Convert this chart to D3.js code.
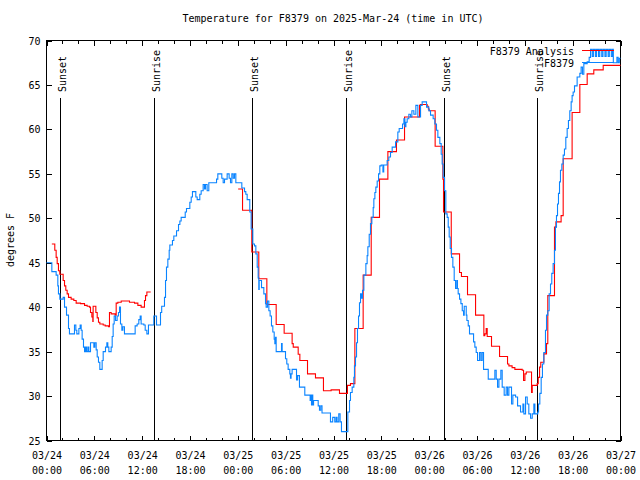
<!DOCTYPE html>
<html><head><meta charset="utf-8">
<script src="https://cdn.jsdelivr.net/npm/d3@7"></script>
<style>
body{margin:0;background:#fff}
svg{display:block}
text{font-family:"DejaVu Sans Mono",monospace;font-size:10px;fill:#000}
</style>
</head><body><svg id="c" width="640" height="480"></svg>
<script>
const chartTitle = "Temperature for F8379 on 2025-Mar-24 (time in UTC)";
const yAxisLabel = "degrees F";
const seriesNames = ["F8379 Analysis", "F8379"];
const seriesColors = ["#ff0000", "#0a84ff"];
const startUTC = Date.UTC(2025, 2, 24);
const spanHours = 72;
const yTicks = [25, 30, 35, 40, 45, 50, 55, 60, 65, 70];
const sunHours = [1.67, 13.46, 25.75, 37.54, 49.84, 61.5];
const sunLabels = ["Sunset", "Sunrise", "Sunset", "Sunrise", "Sunset", "Sunrise"];

// observations: [hours since 03/24 00:00 UTC, degrees F]
const obsSeries = [[0,45.0],[0.67,44.0],[1.21,43.6],[1.42,42.4],[1.5,41.5],[1.67,40.9],[2.09,41.1],[2.26,40.0],[2.51,39.1],[2.76,37.6],[2.88,37.0],[3.51,38.0],[3.68,37.4],[3.8,37.0],[4.06,37.6],[4.22,38.0],[4.35,37.4],[4.47,36.4],[4.64,35.5],[4.77,35.0],[4.89,35.5],[5.02,35.0],[5.19,35.5],[5.31,35.0],[5.52,36.0],[5.94,35.5],[6.06,36.0],[6.23,35.2],[6.36,34.4],[6.52,33.8],[6.69,33.0],[6.98,34.0],[7.11,35.0],[7.4,35.5],[7.57,36.0],[7.69,35.5],[7.82,35.0],[8.11,35.5],[8.24,36.7],[8.36,38.1],[8.49,39.0],[8.66,38.5],[8.86,39.0],[9.03,39.4],[9.16,40.0],[9.28,38.1],[9.45,37.4],[9.58,37.8],[9.78,37.0],[11.12,37.9],[11.37,38.1],[11.58,38.6],[11.75,39.0],[11.87,38.1],[12.21,38.0],[12.38,37.4],[12.59,37.0],[12.79,38.0],[13.46,39.0],[13.8,38.0],[14.3,39.4],[14.45,40.1],[14.8,41.1],[14.93,43.0],[15.05,44.5],[15.22,45.4],[15.39,46.4],[15.47,47.0],[15.8,47.5],[15.97,48.0],[16.31,48.6],[16.56,49.3],[16.73,49.7],[16.89,50.1],[17.4,50.7],[17.56,51.1],[17.98,51.8],[18.15,52.4],[18.31,53.0],[18.73,52.4],[18.9,52.1],[19.23,52.7],[19.4,53.1],[19.65,53.8],[19.82,53.3],[19.95,53.8],[20.15,53.1],[20.36,54.0],[21.33,54.4],[21.49,55.0],[21.99,54.5],[22.16,54.0],[22.33,54.4],[22.66,55.0],[22.91,54.5],[23.08,54.0],[23.25,55.0],[23.42,54.5],[23.58,55.0],[23.75,54.0],[24.5,53.4],[24.84,53.0],[25.0,52.7],[25.17,52.1],[25.5,50.7],[25.67,48.8],[25.88,47.1],[26.09,46.9],[26.26,46.0],[26.43,44.5],[26.55,43.3],[26.63,42.0],[26.68,43.0],[26.97,42.2],[27.26,41.5],[27.47,40.4],[27.55,40.0],[27.72,40.7],[27.89,39.6],[28.05,39.0],[28.22,37.9],[28.39,37.2],[28.56,36.4],[28.64,35.9],[28.72,36.6],[28.81,35.0],[29.48,35.9],[29.56,35.0],[29.98,34.2],[30.14,33.6],[30.31,33.0],[30.52,32.5],[30.6,32.0],[30.68,32.5],[30.81,33.0],[31.36,31.8],[31.5,32.3],[31.73,31.0],[32.4,30.1],[33.07,29.5],[33.15,30.1],[33.24,29.0],[33.32,30.1],[33.4,29.0],[33.5,29.5],[34.08,28.9],[34.24,28.4],[34.4,28.9],[34.56,28.1],[35.62,27.1],[35.9,27.6],[36.16,27.1],[36.33,27.6],[36.45,27.1],[36.66,28.0],[36.83,27.1],[37.0,26.0],[37.8,28.2],[38.01,29.5],[38.13,30.4],[38.34,31.0],[38.55,32.1],[38.63,33.4],[38.76,34.4],[38.89,36.0],[39.01,37.6],[39.14,39.0],[39.26,40.5],[39.39,41.5],[39.5,41.0],[39.64,41.9],[39.81,43.6],[40.06,44.9],[40.22,45.8],[40.31,46.8],[40.48,48.2],[40.64,49.4],[40.81,50.1],[40.98,51.2],[41.06,52.2],[41.19,52.9],[41.31,53.5],[41.48,54.2],[41.65,55.0],[41.81,55.9],[41.98,56.0],[42.2,55.2],[42.3,56.0],[42.73,56.5],[42.94,56.9],[43.15,57.4],[43.36,58.0],[43.78,58.6],[44.07,59.7],[44.24,60.1],[44.66,60.6],[44.83,61.2],[44.95,60.3],[45.08,60.8],[45.24,61.2],[45.45,61.7],[45.66,61.4],[45.83,62.1],[46.08,61.7],[46.33,62.7],[46.58,61.4],[46.92,62.7],[47.12,63.1],[47.55,63.1],[47.67,62.5],[47.96,62.1],[48.17,61.6],[48.5,61.2],[48.71,60.6],[48.92,59.9],[49.09,59.1],[49.34,58.4],[49.51,57.2],[49.63,56.1],[49.76,54.6],[49.93,53.1],[50.09,50.5],[50.26,50.1],[50.39,49.0],[50.51,47.9],[50.64,46.6],[50.8,45.6],[50.97,44.5],[51.14,43.0],[51.31,42.1],[51.47,43.0],[51.55,42.1],[51.64,41.5],[51.81,40.9],[51.98,40.4],[52.15,39.6],[52.31,39.1],[52.4,40.1],[52.65,39.1],[52.73,38.5],[52.9,37.9],[53.06,37.0],[53.57,36.1],[53.73,35.5],[53.9,34.9],[54.07,34.0],[54.32,34.9],[54.49,34.0],[54.65,34.9],[54.82,33.0],[55.41,31.9],[56.24,32.9],[56.41,31.9],[56.58,31.0],[56.75,31.9],[56.99,32.9],[57.16,31.0],[57.41,30.1],[57.66,31.0],[57.83,30.1],[58.0,31.0],[58.33,29.1],[58.5,30.1],[58.84,29.9],[59.09,28.9],[59.46,28.2],[59.76,29.1],[59.88,28.0],[60.09,29.9],[60.3,29.1],[60.5,28.0],[60.72,27.5],[60.93,28.0],[61.13,29.1],[61.26,28.0],[61.63,28.2],[61.72,29.1],[61.88,30.3],[62.05,32.1],[62.21,33.6],[62.38,34.9],[62.59,37.4],[62.72,39.1],[62.88,39.6],[63.05,41.5],[63.22,42.6],[63.38,43.8],[63.55,44.9],[63.72,46.4],[63.84,49.0],[63.97,50.3],[64.1,51.6],[64.22,52.8],[64.35,54.1],[64.47,55.4],[64.64,56.1],[64.81,57.1],[64.97,57.8],[65.14,59.1],[65.31,60.1],[65.47,61.0],[65.64,62.1],[65.81,63.1],[65.93,63.8],[66.06,64.2],[66.23,64.9],[66.56,65.9],[66.9,66.3],[67.06,67.0],[67.23,66.2],[67.4,67.4],[67.82,67.6],[68.07,68.1],[68.24,69.0],[68.45,68.2],[68.6,69.0],[68.85,68.2],[69.0,69.0],[69.25,68.2],[69.4,69.0],[69.65,68.2],[69.8,69.0],[70.05,68.2],[70.2,69.0],[70.45,68.2],[70.6,69.0],[70.85,68.2],[71.0,69.0],[71.1,67.5],[71.45,67.5],[71.55,68.1],[71.7,67.5],[71.85,68.0],[72,68.0]];

// analysis: [hours since 03/24 00:00 UTC, degrees F]; null = no analysis
const anaSeries = [[0.67,47.1],[1.04,46.4],[1.21,45.6],[1.34,44.9],[1.5,44.1],[1.67,43.7],[2.09,43.0],[2.26,42.4],[2.42,41.9],[2.59,41.5],[2.76,41.1],[3.09,40.9],[3.43,40.75],[3.72,40.45],[4.27,40.4],[4.77,40.2],[5.1,40.1],[5.39,40.0],[5.52,39.4],[5.69,38.9],[5.81,38.4],[5.85,40.1],[6.19,39.4],[6.36,38.8],[6.52,38.3],[6.69,38.1],[7.11,38.0],[7.36,37.9],[7.78,37.8],[7.9,39.4],[8.11,39.25],[8.61,39.1],[8.74,40.45],[8.95,40.56],[9.37,40.7],[10.41,40.56],[11.04,40.45],[11.46,40.2],[11.87,40.0],[12.29,40.75],[12.42,41.3],[12.59,41.7],[13.0,41.76],[13.01,null],[24.04,53.3],[24.59,50.9],[25.75,46.2],[26.63,43.2],[27.64,40.3],[28.81,38.05],[29.81,37.07],[30.81,35.9],[30.95,35.5],[31.57,34.7],[31.78,34.0],[32.74,32.5],[33.74,32.05],[34.74,30.6],[35.7,30.7],[36.75,30.3],[37.75,31.2],[38.13,31.4],[38.68,37.6],[39.72,43.6],[40.73,50.1],[41.77,54.4],[42.82,57.5],[43.9,58.8],[44.91,61.4],[46.79,62.7],[46.9,62.8],[47.75,62.6],[47.9,62.3],[48.0,62.1],[48.75,58.1],[49.72,54.4],[49.8,50.7],[50.77,46.0],[51.81,43.9],[52.05,43.45],[52.81,41.4],[53.82,39.1],[54.86,36.8],[54.98,37.0],[55.15,37.6],[55.28,36.7],[55.82,35.6],[56.83,34.45],[57.83,33.6],[58.0,33.4],[58.4,33.2],[58.75,33.0],[59.67,32.9],[59.84,31.75],[60.01,32.5],[60.18,32.7],[60.84,30.4],[60.93,31.2],[61.55,31.4],[61.68,32.1],[61.85,33.25],[62.0,33.8],[62.39,34.75],[62.72,35.9],[62.88,41.3],[63.72,49.0],[63.9,49.6],[64.55,50.3],[64.81,56.7],[65.93,61.9],[66.9,65.05],[67.82,66.25],[68.65,66.7],[69.83,67.2],[72,67.2]];

const svg = d3.select("#c");
const L = 46.5, R = 620.5, T = 40.5, B = 440.5;
const hourDate = h => new Date(startUTC + h * 3600e3);
const x = d3.scaleUtc().domain([hourDate(0), hourDate(spanHours)]).range([L, R]);
const y = d3.scaleLinear().domain([25, 70]).range([B, T]);

// title and y label
svg.append("text").attr("x", 333).attr("y", 22).attr("text-anchor", "middle").text(chartTitle);
svg.append("text").attr("transform", "translate(14,240) rotate(-90)").attr("text-anchor", "middle").text(yAxisLabel);

function clean(g){ g.select(".domain").remove(); g.selectAll("line").attr("stroke","#000").attr("shape-rendering","crispEdges"); }

// bottom axis (major with labels, minor)
const gb = svg.append("g").attr("transform", `translate(0,${B})`)
  .call(d3.axisBottom(x).ticks(d3.utcHour.every(6)).tickSizeInner(-5).tickSizeOuter(0));
clean(gb);
gb.selectAll(".tick text").each(function(d){
  const t = d3.select(this);
  t.attr("dy", null).attr("y", null).text(null);
  t.append("tspan").attr("x", 0).attr("y", 18).text(d3.utcFormat("%m/%d")(d));
  t.append("tspan").attr("x", 0).attr("y", 33).text(d3.utcFormat("%H:%M")(d));
});
gb.attr("font-size", null).attr("font-family", null);
const gbm = svg.append("g").attr("transform", `translate(0,${B})`)
  .call(d3.axisBottom(x).ticks(d3.utcHour.every(2)).tickSizeInner(-3).tickSizeOuter(0).tickFormat(""));
clean(gbm);
// top axis
const gt = svg.append("g").attr("transform", `translate(0,${T})`)
  .call(d3.axisTop(x).ticks(d3.utcHour.every(6)).tickSizeInner(-5).tickSizeOuter(0).tickFormat(""));
clean(gt);
const gtm = svg.append("g").attr("transform", `translate(0,${T})`)
  .call(d3.axisTop(x).ticks(d3.utcHour.every(2)).tickSizeInner(-3).tickSizeOuter(0).tickFormat(""));
clean(gtm);
// left / right
const gl = svg.append("g").attr("transform", `translate(${L},0)`)
  .call(d3.axisLeft(y).tickValues(yTicks).tickSizeInner(-5).tickSizeOuter(0).tickPadding(6));
clean(gl);
gl.attr("font-size", null).attr("font-family", null);
gl.selectAll(".tick text").attr("dy", "0.35em");
const gr = svg.append("g").attr("transform", `translate(${R},0)`)
  .call(d3.axisRight(y).tickValues(yTicks).tickSizeInner(-5).tickSizeOuter(0).tickFormat(""));
clean(gr);

// frame
svg.append("rect").attr("x", L).attr("y", T).attr("width", R - L).attr("height", B - T)
  .attr("fill", "none").attr("stroke", "#000").attr("shape-rendering", "crispEdges");

// sunrise / sunset markers
const sun = svg.append("g");
sunHours.forEach((h, i) => {
  const sx = Math.round(x(hourDate(h))) + 0.5;
  sun.append("line").attr("x1", sx).attr("x2", sx).attr("y1", 98).attr("y2", B)
    .attr("stroke", "#000").attr("shape-rendering", "crispEdges");
  sun.append("text").attr("transform", `translate(${sx + 5},92) rotate(-90)`).text(sunLabels[i]);
});

// series
const line = d3.line()
  .defined(d => d[1] != null)
  .x(d => x(hourDate(d[0])))
  .y(d => y(d[1]))
  .curve(d3.curveStepAfter);
svg.append("path").datum(anaSeries).attr("d", line)
  .attr("fill", "none").attr("stroke", seriesColors[0]).attr("stroke-width", 1.1);
svg.append("path").datum(obsSeries).attr("d", line)
  .attr("fill", "none").attr("stroke", seriesColors[1]).attr("stroke-width", 1.1);

// legend
const legY = [50.5, 62.5];
seriesNames.forEach((n, i) => {
  svg.append("text").attr("x", 574).attr("y", legY[i] + 4).attr("text-anchor", "end").text(n);
  svg.append("line").attr("x1", 582).attr("x2", 614).attr("y1", legY[i]).attr("y2", legY[i])
    .attr("stroke", seriesColors[i]).attr("shape-rendering", "crispEdges");
});
</script>
</body></html>
